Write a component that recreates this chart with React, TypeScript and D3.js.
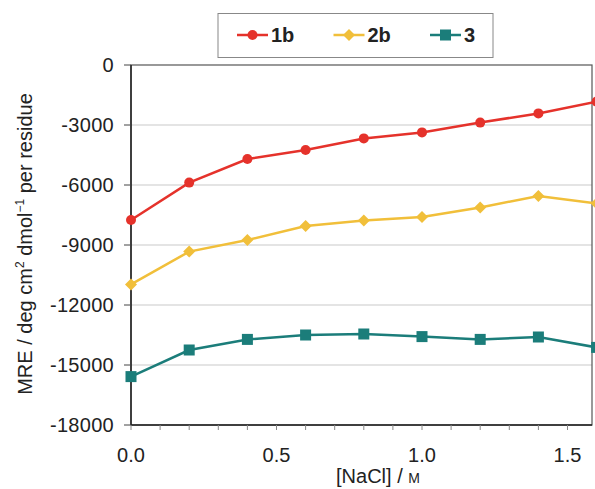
import React from "react";
import * as d3 from "d3";

const nacl = [0, 0.2, 0.4, 0.6, 0.8, 1.0, 1.2, 1.4, 1.6];
const mre1b = [-7750, -5880, -4700, -4250, -3670, -3370, -2880, -2420, -1830];
const mre2b = [-10970, -9330, -8750, -8050, -7770, -7600, -7120, -6550, -6920];
const mre3 = [-15580, -14250, -13720, -13500, -13450, -13580, -13720, -13600, -14120];
const yTicks = [0, -3000, -6000, -9000, -12000, -15000, -18000];
const xTicks = [0, 0.5, 1.0, 1.5];

const series = [
  { name: "1b", values: mre1b, color: "#e5322b", shape: "circle" },
  { name: "2b", values: mre2b, color: "#f1bf3a", shape: "diamond" },
  { name: "3", values: mre3, color: "#1b7d7a", shape: "square" },
];

const W = 595, H = 489;
const left = 131, right = 592, top = 65, bottom = 425;

function Marker({ shape, x, y, color }: { shape: string; x: number; y: number; color: string }) {
  if (shape === "circle") return <circle cx={x} cy={y} r={5} fill={color} />;
  if (shape === "diamond")
    return <path d={`M${x},${y - 6}L${x + 6},${y}L${x},${y + 6}L${x - 6},${y}Z`} fill={color} />;
  return <rect x={x - 5.5} y={y - 5.5} width={11} height={11} fill={color} />;
}

export default function App() {
  const x = d3.scaleLinear().domain([0, 1.6]).range([left, left + 16 * 29.1]);
  const y = d3.scaleLinear().domain([-18000, 0]).range([bottom, top]);
  const line = d3.line<number>().x((_, i) => x(nacl[i])).y((d) => y(d));
  const minor = d3.range(0, 17).map((i) => i / 10);
  const font = "'Liberation Sans', Arial, sans-serif";

  return (
    <svg width={W} height={H} style={{ position: "absolute", left: 0, top: 0, background: "#fff" }} fontFamily={font}>
      <defs>
        <clipPath id="clip">
          <rect x={0} y={0} width={W} height={H} />
        </clipPath>
      </defs>
      {yTicks.slice(1, -1).map((t) => (
        <line key={t} x1={left} x2={right} y1={y(t)} y2={y(t)} stroke="#c9c9c9" strokeWidth={1} />
      ))}
      <rect x={left} y={top} width={right - left} height={bottom - top} fill="none" stroke="#555" strokeWidth={1.2} />
      <line x1={left} x2={left} y1={top} y2={bottom} stroke="#222" strokeWidth={1.5} />
      <line x1={left} x2={right} y1={bottom} y2={bottom} stroke="#222" strokeWidth={1.5} />
      {yTicks.map((t) => (
        <g key={t}>
          <line x1={left - 7} x2={left} y1={y(t)} y2={y(t)} stroke="#444" />
          <text x={114} y={y(t)} dy="0.36em" textAnchor="end" fontSize={20} letterSpacing={0.3} fill="#222">
            {t}
          </text>
        </g>
      ))}
      {minor.map((t) => (
        <line key={t} x1={x(t)} x2={x(t)} y1={bottom} y2={bottom + 5} stroke="#888" />
      ))}
      {xTicks.map((t) => (
        <text key={t} x={x(t)} y={462} textAnchor="middle" fontSize={20} fill="#222">
          {t.toFixed(1)}
        </text>
      ))}
      <text x={378} y={483} textAnchor="middle" fontSize={20} fill="#222">
        [NaCl] / <tspan fontSize={14}>M</tspan>
      </text>
      <text transform={`translate(32,244) rotate(-90)`} textAnchor="middle" fontSize={20} fill="#222">
        MRE / deg cm<tspan fontSize={12} dy={-8}>2</tspan>
        <tspan dy={8}> dmol</tspan>
        <tspan fontSize={12} dy={-8}>−1</tspan>
        <tspan dy={8}> per residue</tspan>
      </text>
      <g clipPath="url(#clip)">
        {series.map((s) => (
          <g key={s.name}>
            <path d={line(s.values) || ""} fill="none" stroke={s.color} strokeWidth={2.5} />
            {s.values.map((v, i) => (
              <Marker key={i} shape={s.shape} x={x(nacl[i])} y={y(v)} color={s.color} />
            ))}
          </g>
        ))}
      </g>
      <rect x={218} y={13.5} width={275} height={44} fill="#fff" stroke="#888" strokeWidth={1} />
      {series.map((s, i) => {
        const lx = 237 + i * 96.5;
        return (
          <g key={s.name}>
            <line x1={lx} x2={lx + 31} y1={35} y2={35} stroke={s.color} strokeWidth={2.5} />
            <Marker shape={s.shape} x={lx + 15.5} y={35} color={s.color} />
            <text x={lx + 34} y={35} dy="0.36em" fontSize={20} fontWeight="bold" fill="#222">
              {s.name}
            </text>
          </g>
        );
      })}
    </svg>
  );
}
